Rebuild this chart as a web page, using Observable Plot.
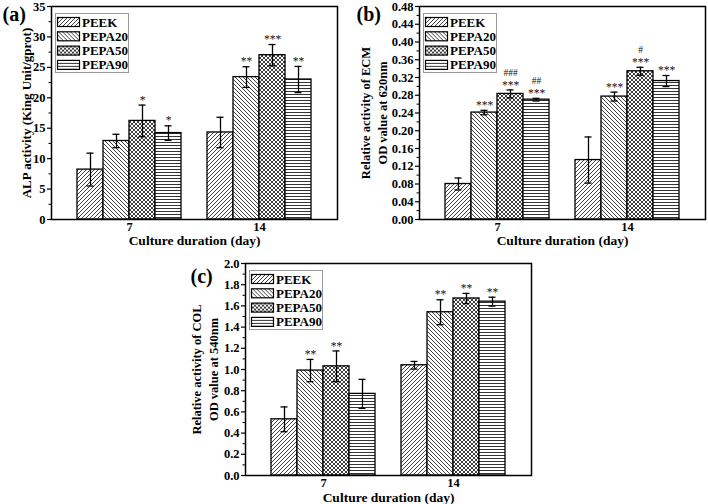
<!DOCTYPE html>
<html>
<head>
<meta charset="utf-8">
<script src="https://cdn.jsdelivr.net/npm/d3@7"></script>
<script src="https://cdn.jsdelivr.net/npm/@observablehq/plot@0.6"></script>
<style>
html,body{margin:0;padding:0;background:#fff;}
#root{position:relative;width:708px;height:504px;overflow:hidden;background:#fff;}
.panel{position:absolute;overflow:visible;}
.panel text{font-weight:bold;}
</style>
</head>
<body>
<svg width="0" height="0" style="position:absolute">
  <defs>
    <pattern id="pat-peek" patternUnits="userSpaceOnUse" width="4" height="4">
      <rect width="4" height="4" fill="#fff"/>
      <path d="M-1,1 l2,-2 M0,4 l4,-4 M3,5 l2,-2" stroke="#000" stroke-width="0.75"/>
    </pattern>
    <pattern id="pat-pepa20" patternUnits="userSpaceOnUse" width="4" height="4">
      <rect width="4" height="4" fill="#fff"/>
      <path d="M-1,3 l2,2 M0,0 l4,4 M3,-1 l2,2" stroke="#000" stroke-width="0.75"/>
    </pattern>
    <pattern id="pat-pepa50" patternUnits="userSpaceOnUse" width="4" height="4">
      <rect width="4" height="4" fill="#fff"/>
      <path d="M-1,1 l2,-2 M0,4 l4,-4 M3,5 l2,-2 M-1,3 l2,2 M0,0 l4,4 M3,-1 l2,2" stroke="#000" stroke-width="0.75"/>
    </pattern>
    <pattern id="pat-pepa90" patternUnits="userSpaceOnUse" width="4" height="3">
      <rect width="4" height="3" fill="#fff"/>
      <path d="M0,1.5 h4" stroke="#000" stroke-width="0.8"/>
    </pattern>
  </defs>
</svg>
<div id="root"></div>
<script>
// ---------- shared categories ----------
const SERIES = ["PEEK", "PEPA20", "PEPA50", "PEPA90"];
const DAYS = ["7", "14"];
const PATTERNS = ["url(#pat-peek)", "url(#pat-pepa20)", "url(#pat-pepa50)", "url(#pat-pepa90)"];
const X_TITLE = "Culture duration (day)";

// ---------- (a) ALP activity ----------
const alpDay7 = [8.2, 12.9, 16.2, 14.2];
const alpDay7Err = [2.7, 1.1, 2.6, 1.2];
const alpDay14 = [14.3, 23.4, 27.0, 23.0];
const alpDay14Err = [2.5, 1.7, 1.75, 2.15];
const alpStars7 = ["", "", "*", "*"];
const alpStars14 = ["", "**", "***", "**"];
const alpHash7 = ["", "", "", ""];
const alpHash14 = ["", "", "", ""];
const alpTicks = [0, 5, 10, 15, 20, 25, 30, 35];
const alpTitle = "ALP activity (King Unit/gprot)";

// ---------- (b) ECM ----------
const ecmDay7 = [0.080, 0.241, 0.283, 0.270];
const ecmDay7Err = [0.0135, 0.005, 0.009, 0.003];
const ecmDay14 = [0.134, 0.277, 0.334, 0.312];
const ecmDay14Err = [0.052, 0.010, 0.009, 0.0125];
const ecmStars7 = ["", "***", "***", "***"];
const ecmStars14 = ["", "***", "***", "***"];
const ecmHash7 = ["", "", "###", "##"];
const ecmHash14 = ["", "", "#", ""];
const ecmTicks = [0, 0.04, 0.08, 0.12, 0.16, 0.20, 0.24, 0.28, 0.32, 0.36, 0.40, 0.44, 0.48];
const ecmTitle = "Relative activity of ECM\nOD value at 620nm";

// ---------- (c) COL ----------
const colDay7 = [0.53, 0.99, 1.03, 0.77];
const colDay7Err = [0.117, 0.105, 0.145, 0.137];
const colDay14 = [1.04, 1.54, 1.67, 1.64];
const colDay14Err = [0.036, 0.118, 0.048, 0.042];
const colStars7 = ["", "**", "**", ""];
const colStars14 = ["", "**", "**", "**"];
const colHash7 = ["", "", "", ""];
const colHash14 = ["", "", "", ""];
const colTicks = [0, 0.2, 0.4, 0.6, 0.8, 1.0, 1.2, 1.4, 1.6, 1.8, 2.0];
const colTitle = "Relative activity of COL\nOD value at 540nm";

const FONT = "'Liberation Serif', 'Times New Roman', Times, serif";
const root = document.getElementById("root");

function buildRows(v7, e7, v14, e14, s7, s14, h7, h14) {
  const rows = [];
  SERIES.forEach((s, i) => rows.push({day: DAYS[0], series: s, value: v7[i], err: e7[i], star: s7[i], hash: h7[i]}));
  SERIES.forEach((s, i) => rows.push({day: DAYS[1], series: s, value: v14[i], err: e14[i], star: s14[i], hash: h14[i]}));
  return rows;
}

function drawPanel(cfg) {
  const rows = cfg.rows;
  const ticks = cfg.ticks;
  const minor = ticks.slice(1).map((t, i) => (t + ticks[i]) / 2);
  const fmt = d3.format(cfg.fmt);
  const lo = d => d.value - d.err;
  const hi = d => d.value + d.err;
  const chart = Plot.plot({
    width: cfg.w, height: cfg.h,
    marginLeft: cfg.ml, marginRight: cfg.mr, marginTop: cfg.mt, marginBottom: cfg.mb,
    style: {fontFamily: FONT, fontWeight: "bold", fontSize: "12.5px", color: "#000", background: "transparent", overflow: "visible"},
    // day groups: bands overlap slightly so that the group gaps equal one bar width
    fx: {domain: DAYS, paddingInner: -0.2, paddingOuter: 0, axis: "bottom", label: null, tickSize: 0, tickPadding: 3},
    x: {domain: SERIES, paddingInner: 0, paddingOuter: 1, axis: null},
    y: {domain: [ticks[0], ticks[ticks.length - 1]]},
    color: {domain: SERIES, range: PATTERNS},
    marks: [
      Plot.barY(rows, {fx: "day", x: "series", y: "value", fill: "series", stroke: "#000", strokeWidth: 1.3}),
      Plot.ruleX(rows, {fx: "day", x: "series", y1: lo, y2: hi, stroke: "#000", strokeWidth: 1.3}),
      Plot.tickY(rows, {fx: "day", x: "series", y: lo, inset: 9.5, stroke: "#000", strokeWidth: 1.3}),
      Plot.tickY(rows, {fx: "day", x: "series", y: hi, inset: 9.5, stroke: "#000", strokeWidth: 1.3}),
      Plot.text(rows, {fx: "day", x: "series", y: hi, text: "star", dy: -5, fontSize: 11.5, fontWeight: "normal", fill: "#111"}),
      Plot.text(rows, {fx: "day", x: "series", y: hi, text: "hash", dy: -17, fontSize: 9.5, fontWeight: "normal", fill: "#111"}),
      Plot.frame({facet: "super", stroke: "#000", strokeWidth: 1.5}),
      Plot.axisY({ticks: ticks, tickFormat: fmt, tickSize: 4, tickPadding: 2, label: null, strokeWidth: 1.2, fontWeight: "bold", fontSize: 12.5}),
      Plot.axisY({ticks: minor, tickFormat: () => "", tickSize: 2.5, label: null, strokeWidth: 1}),
      Plot.text([cfg.yTitle], {facet: "super", text: d => d, frameAnchor: "left", dx: cfg.ytDx, rotate: -90, fontSize: cfg.ytSize, fontWeight: "bold", lineHeight: 1.35, textAnchor: "middle", lineAnchor: "middle"}),
      Plot.text([X_TITLE], {facet: "super", text: d => d, frameAnchor: "bottom", dy: cfg.xtDy, fontSize: 13.5, fontWeight: "bold", lineAnchor: "middle"}),
      Plot.text([cfg.tag], {facet: "super", text: d => d, frameAnchor: "top-left", dx: cfg.tagDx, dy: cfg.tagDy, fontSize: 20, fontWeight: "bold", textAnchor: "start", lineAnchor: "middle"})
    ]
  });
  chart.classList.add("panel");
  chart.style.left = cfg.left + "px";
  chart.style.top = cfg.top + "px";
  // significance marks are drawn light, not bold
  d3.select(chart).selectAll("text").filter(function() { return /^[*#]+$/.test(this.textContent); }).style("font-weight", "normal");
  root.appendChild(chart);
  addLegend(cfg.left + cfg.ml + 4, cfg.top + cfg.mt + 7);
}

function addLegend(left, top) {
  const svg = d3.select(root).append("svg")
    .attr("class", "panel")
    .style("left", left + "px").style("top", top + "px")
    .attr("width", 75).attr("height", 61);
  svg.append("rect").attr("x", 0.5).attr("y", 0.5).attr("width", 73).attr("height", 59)
    .attr("fill", "#fff").attr("stroke", "#999").attr("stroke-width", 1);
  const g = svg.selectAll("g.item").data(SERIES).join("g").attr("class", "item")
    .attr("transform", (d, i) => `translate(0,${9 + i * 14.3})`);
  g.append("rect").attr("x", 2.5).attr("y", -4.5).attr("width", 22).attr("height", 9)
    .attr("fill", (d, i) => PATTERNS[i]).attr("stroke", "#000").attr("stroke-width", 1.2);
  g.append("text").attr("x", 27).attr("dy", "0.35em").text(d => d)
    .style("font-family", FONT).style("font-weight", "bold").style("font-size", "13px");
}

drawPanel({
  rows: buildRows(alpDay7, alpDay7Err, alpDay14, alpDay14Err, alpStars7, alpStars14, alpHash7, alpHash14),
  ticks: alpTicks, fmt: "d", yTitle: alpTitle, ytSize: 13, ytDx: -26, tag: "(a)", tagDx: -49, tagDy: 8, xtDy: 21,
  left: 0, top: 0, w: 354, h: 250, ml: 51, mr: 17, mt: 6, mb: 31
});
drawPanel({
  rows: buildRows(ecmDay7, ecmDay7Err, ecmDay14, ecmDay14Err, ecmStars7, ecmStars14, ecmHash7, ecmHash14),
  ticks: ecmTicks, fmt: ".2f", yTitle: ecmTitle, ytSize: 12.5, ytDx: -46, tag: "(b)", tagDx: -63, tagDy: 8, xtDy: 21,
  left: 354, top: 0, w: 354, h: 250, ml: 65, mr: 3, mt: 6, mb: 31
});
drawPanel({
  rows: buildRows(colDay7, colDay7Err, colDay14, colDay14Err, colStars7, colStars14, colHash7, colHash14),
  ticks: colTicks, fmt: ".1f", yTitle: colTitle, ytSize: 12.5, ytDx: -41, tag: "(c)", tagDx: -55, tagDy: 13, xtDy: 22,
  left: 180, top: 250, w: 360, h: 254, ml: 65, mr: 9, mt: 13, mb: 29
});
</script>
</body>
</html>
